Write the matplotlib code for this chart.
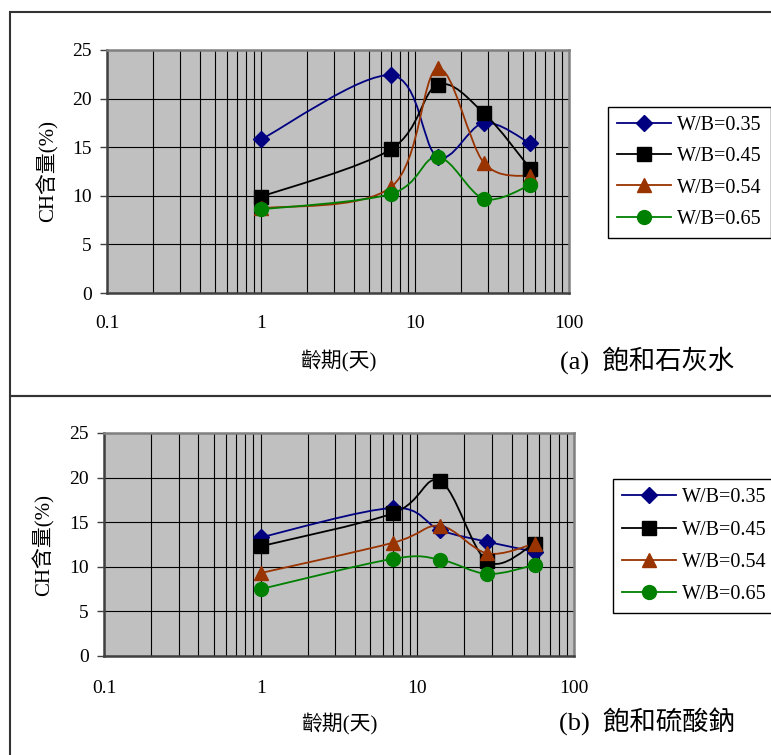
import numpy as np
import matplotlib
matplotlib.use("Agg")
import matplotlib.pyplot as plt
from matplotlib.path import Path
from matplotlib.patches import PathPatch, Rectangle
from matplotlib.lines import Line2D
from matplotlib.ticker import FixedLocator, NullFormatter

plt.rcParams['font.family'] = ['Liberation Serif', 'Noto Sans CJK TC']

W, H = 771, 755

days = [1, 7, 14, 28, 56]
labels = ['W/B=0.35', 'W/B=0.45', 'W/B=0.54', 'W/B=0.65']

# (a) saturated lime water
lime_035 = [15.8, 22.4, 14.0, 17.5, 15.4]
lime_045 = [9.9, 14.8, 21.4, 18.5, 12.8]
lime_054 = [8.7, 10.9, 23.1, 13.4, 12.0]
lime_065 = [8.6, 10.2, 14.0, 9.7, 11.1]

# (b) saturated sodium sulfate
sulf_035 = [13.3, 16.6, 14.1, 12.8, 11.7]
sulf_045 = [12.3, 16.0, 19.6, 10.6, 12.6]
sulf_054 = [9.3, 12.7, 14.6, 11.5, 12.6]
sulf_065 = [7.5, 10.9, 10.8, 9.2, 10.2]

colors = ['#000080', '#000000', '#993300', '#008000']
markers = ['D', 's', '^', 'o']
msizes = [8.5, 9.5, 10, 10]


def fx(px):
    return px / W


def fy(py):
    return 1 - py / H


def smooth_path(xs, ys):
    # excel style smoothed line: cubic bezier, control points from neighbours
    p = np.column_stack([np.log10(xs), ys])
    n = len(p)
    verts = [p[0]]
    codes = [Path.MOVETO]
    for i in range(n - 1):
        p0 = p[i - 1] if i > 0 else p[i]
        p3 = p[i + 2] if i + 2 < n else p[i + 1]
        c1 = p[i] + (p[i + 1] - p0) / 6
        c2 = p[i + 1] - (p3 - p[i]) / 6
        verts += [c1, c2, p[i + 1]]
        codes += [Path.CURVE4] * 3
    verts = np.array(verts)
    verts[:, 0] = 10 ** verts[:, 0]
    return Path(verts, codes)


def draw_panel(fig, rect, series, xl_y, tick_pad, ylab_x, cap, cap_xy, leg_xy, leg_sp):
    ax = fig.add_axes(rect)
    ax.set_facecolor('#c0c0c0')
    ax.set_xscale('log')
    ax.set_xlim(0.1, 100)
    ax.set_ylim(0, 25)
    ax.set_yticks([0, 5, 10, 15, 20, 25])
    ax.xaxis.set_major_locator(FixedLocator([0.1, 1, 10, 100]))
    ax.set_xticklabels(['0.1', '1', '10', '100'])
    ax.xaxis.set_minor_locator(FixedLocator(
        [m * d for d in (0.1, 1, 10) for m in range(2, 10)]))
    ax.xaxis.set_minor_formatter(NullFormatter())
    ax.grid(True, which='both', axis='x', color='black', lw=0.8)
    ax.grid(True, which='major', axis='y', color='black', lw=0.8)
    ax.set_axisbelow(True)
    ax.tick_params(axis='x', which='both', length=0, pad=tick_pad, labelsize=14)
    ax.tick_params(axis='y', length=5, width=1, color='#404040', pad=6, labelsize=14)
    for s in ('top', 'right'):
        ax.spines[s].set_color('#808080')
        ax.spines[s].set_linewidth(1.8)
    for s in ('left', 'bottom'):
        ax.spines[s].set_color('#404040')
        ax.spines[s].set_linewidth(1.8)

    for vals, c, m, ms in zip(series, colors, markers, msizes):
        ax.add_patch(PathPatch(smooth_path(days, vals), fill=False,
                               edgecolor=c, lw=1.3, zorder=3))
        ax.plot(days, vals, ls='none', marker=m, ms=ms, color=c,
                mec=c, zorder=4)

    x0 = rect[0] + rect[2] / 2
    fig.text(x0, fy(xl_y), '齡期(天)', ha='center', va='center', fontsize=15)
    fig.text(fx(ylab_x), rect[1] + rect[3] / 2, 'CH含量(%)', rotation=90,
             ha='center', va='center', fontsize=15)
    fig.text(fx(cap_xy[0]), fy(cap_xy[1]), cap, ha='left', va='center', fontsize=19)

    handles = [Line2D([], [], color=c, marker=m, ms=ms, lw=1.3)
               for c, m, ms in zip(colors, markers, msizes)]
    leg = fig.legend(handles, labels, loc='upper left',
                     bbox_to_anchor=(fx(leg_xy[0]), fy(leg_xy[1])),
                     borderaxespad=0, fancybox=False, edgecolor='black',
                     framealpha=1, borderpad=0.45, labelspacing=leg_sp,
                     handlelength=2.7, handletextpad=0.3, fontsize=14.5)
    leg.get_frame().set_linewidth(1.0)
    return ax


fig = plt.figure(figsize=(W / 100, H / 100), dpi=100)

# panel frames
fig.add_artist(Rectangle((fx(10), fy(396)), fx(775) - fx(10), fy(12) - fy(396),
                         transform=fig.transFigure, fill=False,
                         edgecolor='#333333', lw=1.5, clip_on=False))
fig.add_artist(Rectangle((fx(10), fy(760)), fx(775) - fx(10), fy(396) - fy(760),
                         transform=fig.transFigure, fill=False,
                         edgecolor='#333333', lw=1.5, clip_on=False))

draw_panel(fig, [fx(107), fy(293), fx(569) - fx(107), fy(50) - fy(293)],
           [lime_035, lime_045, lime_054, lime_065],
           xl_y=360, tick_pad=16, ylab_x=47,
           cap='(a)  飽和石灰水', cap_xy=(560, 360),
           leg_xy=(608, 107), leg_sp=0.6)

draw_panel(fig, [fx(104), fy(656), fx(574) - fx(104), fy(433) - fy(656)],
           [sulf_035, sulf_045, sulf_054, sulf_065],
           xl_y=723, tick_pad=17, ylab_x=43,
           cap='(b)  飽和硫酸鈉', cap_xy=(559, 722),
           leg_xy=(613, 479), leg_sp=0.66)

fig.savefig('out.png', dpi=100)
